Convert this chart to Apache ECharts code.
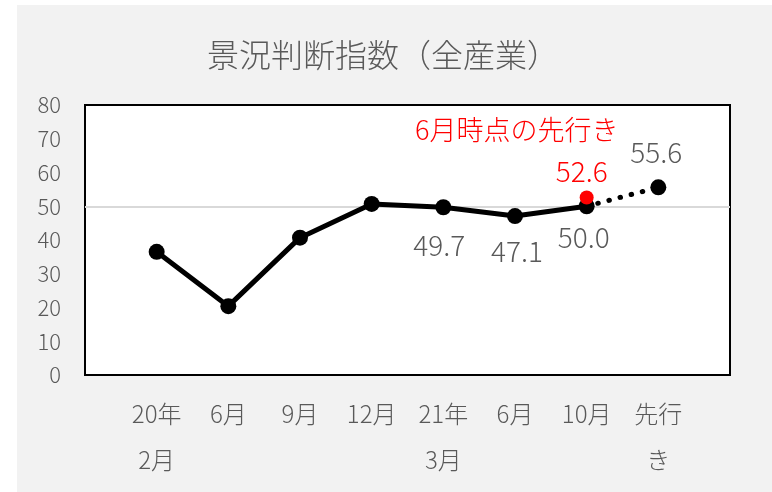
<!DOCTYPE html>
<html>
<head>
<meta charset="utf-8">
<script src="https://cdn.jsdelivr.net/npm/echarts@6/dist/echarts.min.js"></script>
<style>
html,body{margin:0;padding:0;background:#fff;}
#c{width:772px;height:492px;}
</style>
</head>
<body>
<div id="c"></div>
<script>
const titleText = '景況判断指数（全産業）';
const noteText = '6月時点の先行き';
const categories = ['20年\n2月', '6月', '9月', '12月', '21年\n3月', '6月', '10月', '先行\nき'];
const actualValues = [36.5, 20.4, 40.7, 50.7, 49.7, 47.1, 50.0];
const forecastValue = 55.6;
const juneForecastValue = 52.6;
const yTicks = [0, 10, 20, 30, 40, 50, 60, 70, 80];

const FONT = '"Noto Sans CJK JP", "Noto Sans", sans-serif';
const GRAY = '#595959';
const n = categories.length;

// padded category axis (empty slots at both ends)
const xAxisData = [''].concat(categories).concat(['']);

const labelOffsets = {4: [-4, 38], 5: [2, 35], 6: [-3, 31]};

const solidData = [null];
actualValues.forEach((v, i) => {
  const item = {value: v};
  if (labelOffsets[i]) {
    item.label = {show: true, position: 'inside', offset: labelOffsets[i],
      formatter: v.toFixed(1), fontSize: 28, fontWeight: 300, color: GRAY, fontFamily: FONT};
  }
  solidData.push(item);
});
while (solidData.length < xAxisData.length) solidData.push(null);

const dottedData = xAxisData.map(() => null);
dottedData[actualValues.length] = {value: actualValues[actualValues.length - 1], symbol: 'none'};
dottedData[n] = {value: forecastValue, symbol: 'circle', symbolSize: 16,
  label: {show: true, position: 'inside', offset: [-2, -35], formatter: forecastValue.toFixed(1),
    fontSize: 28, fontWeight: 300, color: GRAY, fontFamily: FONT}};

const redData = xAxisData.map(() => null);
redData[actualValues.length] = {value: juneForecastValue,
  label: {show: true, position: 'inside', offset: [-5, -26], formatter: juneForecastValue.toFixed(1),
    fontSize: 28, fontWeight: 300, color: '#ff0000', fontFamily: FONT}};

const chart = echarts.init(document.getElementById('c'), null, {renderer: 'canvas'});
chart.setOption({
  animation: false,
  textStyle: {fontFamily: FONT},
  graphic: [
    {type: 'rect', z: -10, shape: {x: 17, y: 5, width: 760, height: 492}, style: {fill: '#f2f2f2'}},
    {type: 'text', left: 415, top: 116, z: 10,
      style: {text: noteText, fill: '#ff0000', fontSize: 27, fontWeight: 300, fontFamily: FONT}}
  ],
  title: {text: titleText, left: 207, top: 38, padding: 0,
    textStyle: {fontSize: 32, lineHeight: 34, fontWeight: 300, color: GRAY, fontFamily: FONT}},
  grid: {left: 85, right: 42, top: 105, bottom: 117, show: true, backgroundColor: '#fff',
    borderColor: '#000', borderWidth: 2},
  xAxis: {type: 'category', data: xAxisData, boundaryGap: false,
    axisLine: {show: false}, axisTick: {show: false}, splitLine: {show: false},
    axisLabel: {interval: 0, fontSize: 24, fontWeight: 300, lineHeight: 46, color: GRAY, margin: 16, fontFamily: FONT}},
  yAxis: {type: 'value', min: yTicks[0], max: yTicks[yTicks.length - 1], interval: 10,
    axisLine: {show: false}, axisTick: {show: false}, splitLine: {show: false},
    axisLabel: {fontSize: 22, fontWeight: 300, color: GRAY, margin: 24, fontFamily: FONT}},
  series: [
    {type: 'line', data: solidData, z: 3,
      symbol: 'circle', symbolSize: 16, connectNulls: false,
      itemStyle: {color: '#000'}, lineStyle: {color: '#000', width: 5},
      markLine: {silent: true, symbol: 'none', label: {show: false}, z: 1,
        lineStyle: {color: '#d9d9d9', width: 2, type: 'solid'}, data: [{yAxis: 50}]}},
    {type: 'line', data: dottedData, z: 2,
      itemStyle: {color: '#000'},
      lineStyle: {color: '#000', width: 5, type: [0.5, 11], cap: 'round'}},
    {type: 'line', data: redData, z: 4,
      symbol: 'circle', symbolSize: 14, itemStyle: {color: '#ff0000'}, lineStyle: {width: 0}}
  ]
});
</script>
</body>
</html>
